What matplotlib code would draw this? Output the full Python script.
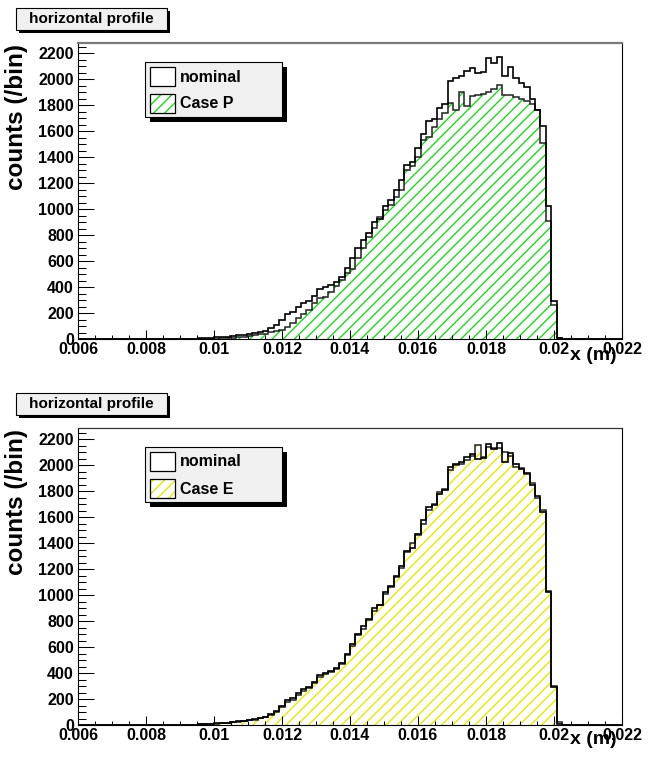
import numpy as np
import matplotlib
matplotlib.use("Agg")
import matplotlib.pyplot as plt
from matplotlib.patches import Rectangle
from matplotlib.ticker import FixedLocator, MultipleLocator

plt.rcParams['font.family'] = ['Liberation Sans', 'DejaVu Sans']
plt.rcParams['hatch.linewidth'] = 1.0

# ---------------- data ----------------
BIN_LO, BIN_HI, N_BINS = 0.006, 0.022, 100

nominal = [0]*14 + [
    1, 0, 1, 2, 1, 2, 3, 3, 4, 5,            # 14-23
    7, 12, 14, 16, 22, 28, 32, 38, 45, 56,   # 24-33
    62, 85, 108, 150, 190, 205, 245, 275, 290, 330,   # 34-43
    385, 400, 415, 440, 480, 550, 620, 697, 760, 813,  # 44-53
    900, 925, 1025, 1069, 1150, 1225, 1340, 1360, 1470, 1580,  # 54-63
    1680, 1695, 1780, 1810, 1985, 2005, 2020, 2060, 2085, 2050,  # 64-73
    2055, 2160, 2120, 2168, 2020, 2092, 2010, 1970, 1935, 1850,  # 74-83
    1760, 1640, 1020, 290, 10, 0, 0, 0, 0, 0,  # 84-93
    0, 0, 0, 0, 0, 0]

case_p = [0]*20 + [
    1, 1, 2, 2, 3, 3, 4, 5, 8, 12,           # 20-29
    18, 23, 30, 36, 40, 52, 58, 70, 95, 120,  # 30-39
    159, 190, 223, 275, 313, 326, 360, 408, 454, 510,  # 40-49
    540, 620, 700, 782, 851, 941, 990, 1031, 1095, 1146,  # 50-59
    1300, 1331, 1403, 1531, 1556, 1633, 1690, 1741, 1813, 1760,  # 60-69
    1900, 1790, 1870, 1880, 1885, 1900, 1925, 1955, 1880, 1875,  # 70-79
    1865, 1850, 1830, 1810, 1760, 1510, 905, 262, 5, 0,  # 80-89
    0, 0, 0, 0, 0, 0, 0, 0, 0, 0]

case_e = [0]*14 + [
    1, 0, 1, 1, 1, 2, 3, 3, 4, 5,            # 14-23
    7, 11, 13, 15, 20, 26, 30, 36, 42, 52,   # 24-33
    60, 80, 100, 140, 180, 195, 232, 262, 285, 320,  # 34-43
    370, 390, 410, 430, 470, 540, 610, 690, 740, 805,  # 44-53
    880, 920, 1010, 1060, 1140, 1210, 1330, 1400, 1460, 1550,  # 54-63
    1654, 1700, 1790, 1815, 1960, 2000, 2010, 2040, 2070, 2154,  # 64-73
    2064, 2140, 2128, 2130, 2103, 2070, 1987, 1974, 1930, 1864,  # 74-83
    1750, 1654, 1030, 300, 20, 0, 0, 0, 0, 0,  # 84-93
    0, 0, 0, 0, 0, 0]

x_ticks = [0.006, 0.008, 0.010, 0.012, 0.014, 0.016, 0.018, 0.020, 0.022]
x_tick_labels = ["0.006", "0.008", "0.01", "0.012", "0.014", "0.016",
                 "0.018", "0.02", "0.022"]
y_ticks = list(range(0, 2201, 200))
y_max = [2277, 2285]

panel_title = "horizontal profile"
legend_labels = [("nominal", "Case P"), ("nominal", "Case E")]
hatch_colors = ["#1ed81e", "#e8e800"]
case_series = [case_p, case_e]

# ---------------- figure ----------------
W, H = 650, 757
fig = plt.figure(figsize=(W/100, H/100), dpi=100)
fig.patch.set_facecolor('white')

def rect_px(x0, y0, x1, y1, **kw):
    return Rectangle((x0/W, 1 - y1/H), (x1 - x0)/W, (y1 - y0)/H,
                     transform=fig.transFigure, **kw)

edges = np.linspace(BIN_LO, BIN_HI, N_BINS + 1)
FS = 11.5

for p in range(2):
    off = 385 * p
    top_px = 43 + off
    bot_px = 339 + off + (1 if p else 0)
    ax = fig.add_axes([78/W, 1 - bot_px/H, 544/W, (bot_px - top_px)/H])
    ax.set_xlim(BIN_LO, BIN_HI)
    ax.set_ylim(0, y_max[p])

    # hatched case histogram
    ax.stairs(case_series[p], edges, fill=True, facecolor='none',
              edgecolor=hatch_colors[p], hatch='///', linewidth=0, zorder=1)
    ax.stairs(case_series[p], edges, color='#222222', linewidth=1.1, zorder=2)
    ax.stairs(nominal, edges, color='black', linewidth=1.2, zorder=3)

    ax.xaxis.set_major_locator(FixedLocator(x_ticks))
    ax.set_xticklabels(x_tick_labels)
    ax.xaxis.set_minor_locator(MultipleLocator(0.0005))
    ax.yaxis.set_major_locator(FixedLocator(y_ticks))
    ax.yaxis.set_minor_locator(MultipleLocator(50))
    ax.tick_params(axis='both', which='both', direction='in', width=0.75,
                   top=False, right=False)
    ax.tick_params(axis='y', which='major', length=11.5, pad=3, labelsize=FS)
    ax.tick_params(axis='y', which='minor', length=5.8)
    ax.tick_params(axis='x', which='major', length=6.5, pad=2, labelsize=FS)
    ax.tick_params(axis='x', which='minor', length=3.2)
    for lab in ax.get_xticklabels() + ax.get_yticklabels():
        lab.set_fontweight('bold')

    for s in ['left', 'bottom', 'right']:
        ax.spines[s].set_color('black')
        ax.spines[s].set_linewidth(0.8)
    if p == 0:
        ax.spines['top'].set_color('#7a7a7a')
        ax.spines['top'].set_linewidth(1.6)
    else:
        ax.spines['top'].set_color('#333333')
        ax.spines['top'].set_linewidth(0.9)

    # axis titles
    fig.text(17/W, 1 - (44 + off)/H, "counts (/bin)", rotation=90,
             ha='center', va='top', fontsize=17.5, fontweight='bold')
    fig.text(617/W, 1 - (355 + off)/H, "x (m)", ha='right', va='center',
             fontsize=14, fontweight='bold')

    # title box
    fig.add_artist(rect_px(19, 11 + off, 170, 33 + off, facecolor='black',
                           edgecolor='black', lw=0, zorder=5))
    fig.add_artist(rect_px(16, 8 + off, 167, 30 + off, facecolor='#f0f0f0',
                           edgecolor='black', lw=0.8, zorder=6))
    fig.text(91/W, 1 - (19 + off)/H, panel_title, ha='center', va='center',
             fontsize=11, fontweight='bold', zorder=7)

    # legend box
    fig.add_artist(rect_px(150, 67 + off, 287, 122 + off, facecolor='black',
                           lw=0, zorder=5))
    fig.add_artist(rect_px(145, 62 + off, 282, 117 + off, facecolor='#f0f0f0',
                           edgecolor='black', lw=0.8, zorder=6))
    fig.add_artist(rect_px(150, 67 + off, 175, 86 + off, facecolor='white',
                           edgecolor='black', lw=0.9, zorder=7))
    fig.add_artist(rect_px(150, 94 + off, 175, 113 + off, facecolor='white',
                           edgecolor=hatch_colors[p], hatch='///', lw=0, zorder=7))
    fig.add_artist(rect_px(150, 94 + off, 175, 113 + off, facecolor='none',
                           edgecolor='black', lw=0.9, zorder=8))
    fig.text(180/W, 1 - (77 + off)/H, legend_labels[p][0], ha='left',
             va='center', fontsize=FS, fontweight='bold', zorder=8)
    fig.text(180/W, 1 - (104 + off)/H, legend_labels[p][1], ha='left',
             va='center', fontsize=FS, fontweight='bold', zorder=8)

fig.savefig("out.png", dpi=100)
